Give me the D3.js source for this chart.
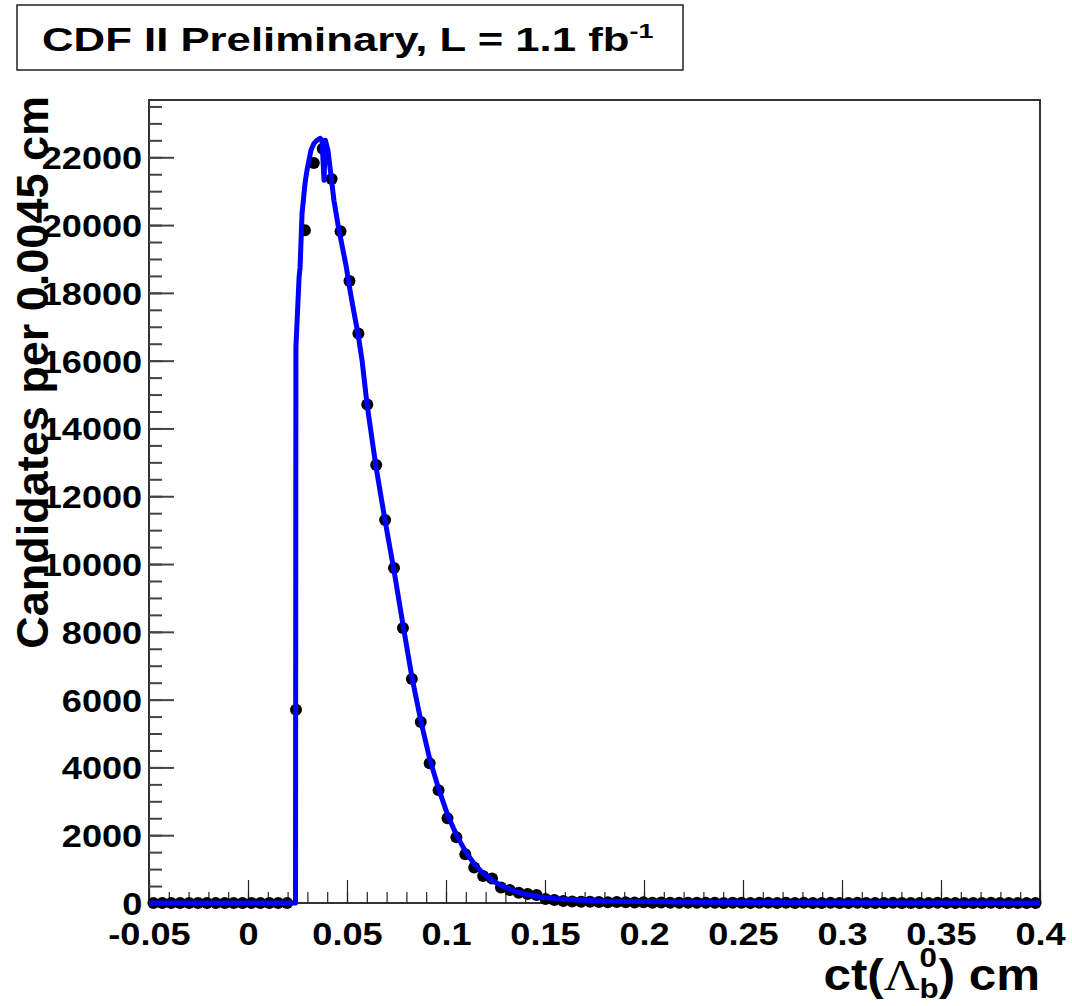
<!DOCTYPE html>
<html>
<head>
<meta charset="utf-8">
<script src="https://cdn.jsdelivr.net/npm/d3@7"></script>
<style>
    body { margin: 0; background: #fff; }
    text { font-family: "Liberation Sans", Arial, sans-serif; font-weight: bold; }
</style>
</head>
<body>
<div id="chart"></div>
<script>

// histogram: 100 bins of 0.0045 cm from -0.05 to 0.4 cm
const binLow = -0.05;
const binWidth = 0.0045;
const counts = [
    0, 0, 0, 0, 0, 0, 0, 0, 0, 0,
    0, 0, 0, 0, 0, 0, 5700, 19850, 21830, 22250,
    21360, 19820, 18350, 16800, 14710, 12920, 11300, 9880, 8110, 6610,
    5340, 4120, 3330, 2500, 1940, 1440, 1050, 800, 720, 460,
    380, 300, 265, 235, 120, 90, 60, 45, 40, 35,
    30, 25, 30, 20, 15, 20, 10, 15, 10, 10,
    5, 10, 5, 5, 0, 10, 5, 0, 5, 5,
    0, 5, 0, 5, 0, 0, 5, 0, 0, 5,
    0, 0, 0, 5, 0, 0, 0, 0, 5, 0,
    0, 0, 0, 0, 5, 0, 0, 0, 0, 0
];

// fit curve (blue)
const fitX = [-0.05, 0.0240, 0.0242, 0.0258, 0.0263, 0.0273, 0.0288, 0.0298, 0.0318, 0.0333,
    0.0348, 0.0364, 0.0374, 0.0384, 0.0391, 0.0404, 0.0419, 0.0434, 0.0455, 0.0475,
    0.0495, 0.0515, 0.0535, 0.0556, 0.0576, 0.0601, 0.0646, 0.0692, 0.0737, 0.0783,
    0.0828, 0.0874, 0.0919, 0.0965, 0.1010, 0.1055, 0.1101, 0.1146, 0.1192, 0.1237,
    0.1283, 0.1374, 0.1475, 0.1576, 0.1778, 0.2283, 0.30, 0.40];
const fitY = [0, 0, 16400, 18460, 18750, 20350, 21230, 21620, 22210, 22410,
    22500, 22560, 22500, 21320, 22500, 22200, 21470, 20730, 19990, 19400,
    18810, 18080, 17430, 16780, 16010, 14720, 12890, 11290, 9820, 8200,
    6660, 5340, 4220, 3330, 2570, 1980, 1500, 1120, 855, 650,
    500, 295, 177, 118, 60, 20, 5, 0];

const xMajor = [-0.05, 0, 0.05, 0.1, 0.15, 0.2, 0.25, 0.3, 0.35, 0.4];
const yMajor = [0, 2000, 4000, 6000, 8000, 10000, 12000, 14000, 16000, 18000, 20000, 22000];

const W = 1072, H = 1006;
const frame = {left: 149, right: 1040, top: 100, bottom: 903};
const stretch = 1.13; // the original text is drawn a bit wider than Arial

const svg = d3.select("#chart").append("svg")
    .attr("width", W)
    .attr("height", H);

svg.append("rect").attr("width", W).attr("height", H).attr("fill", "#fff");

const x = d3.scaleLinear().domain([-0.05, 0.4]).range([frame.left, frame.right]);
const y = d3.scaleLinear().domain([0, 23690]).range([frame.bottom, frame.top]);

// frame
svg.append("rect")
    .attr("x", frame.left).attr("y", frame.top)
    .attr("width", frame.right - frame.left)
    .attr("height", frame.bottom - frame.top)
    .attr("fill", "none")
    .attr("stroke", "#333")
    .attr("stroke-width", 2);

let fmt = d => String(+d.toFixed(2));

// x axis, ticks pointing up into the frame
let xMinor = d3.range(-0.05, 0.4001, 0.01);
let gxMinor = svg.append("g")
    .attr("transform", "translate(0," + frame.bottom + ")")
    .call(d3.axisBottom(x).tickValues(xMinor).tickSize(-11).tickFormat(""));
gxMinor.select(".domain").remove();

let gx = svg.append("g")
    .attr("transform", "translate(0," + frame.bottom + ")")
    .call(d3.axisBottom(x).tickValues(xMajor).tickSize(-23).tickPadding(0).tickFormat(fmt));
gx.select(".domain").remove();
svg.selectAll(".tick line").attr("stroke", "#222").attr("stroke-width", 1.2);
gx.selectAll(".tick text")
    .attr("y", 42).attr("dy", null)
    .attr("transform", "scale(" + stretch + ",1)")
    .attr("fill", "#000")
    .style("font-size", "32px")
    .style("font-family", "Liberation Sans")
    .style("font-weight", "bold");

// y axis, ticks pointing right
let yMinor = d3.range(0, 23600, 500);
let gyMinor = svg.append("g")
    .attr("transform", "translate(" + frame.left + ",0)")
    .call(d3.axisLeft(y).tickValues(yMinor).tickSize(-13).tickFormat(""));
gyMinor.select(".domain").remove();

let gy = svg.append("g")
    .attr("transform", "translate(" + frame.left + ",0)")
    .call(d3.axisLeft(y).tickValues(yMajor).tickSize(-25).tickPadding(6).tickFormat(d3.format("d")));
gy.select(".domain").remove();
gyMinor.selectAll(".tick line").attr("stroke", "#444").attr("stroke-width", 2);
gy.selectAll(".tick line").attr("stroke", "#444").attr("stroke-width", 2);
gy.selectAll(".tick text")
    .attr("transform", "scale(" + stretch + ",1)")
    .attr("dy", "0.36em")
    .attr("fill", "#000")
    .style("font-size", "32px")
    .style("font-family", "Liberation Sans")
    .style("font-weight", "bold");

// data points
svg.append("g")
    .selectAll("circle")
    .data(counts)
    .enter()
    .append("circle")
    .attr("cx", (d, i) => x(binLow + binWidth * (i + 0.5)))
    .attr("cy", d => y(d))
    .attr("r", 6)
    .attr("fill", "#000");

// fit curve
let fitPts = fitX.map((v, i) => [v, fitY[i]]);
svg.append("path")
    .datum(fitPts)
    .attr("d", d3.line().x(d => x(d[0])).y(d => y(d[1])))
    .attr("fill", "none")
    .attr("stroke", "#0000ff")
    .attr("stroke-width", 5)
    .attr("stroke-linejoin", "round");

// y axis title
svg.append("text")
    .attr("transform", "translate(48,96) rotate(-90)")
    .attr("text-anchor", "end")
    .style("font-size", "45px")
    .attr("fill", "#000")
    .text("Candidates per 0.0045 cm");

// x axis title: ct(Λb0) cm, built from pieces then right aligned
let xt = svg.append("g");
let base = 990;
let cx = 0;
let add = (txt, size, dy, family, weight) => {
    let t = xt.append("text")
        .attr("x", cx).attr("y", base + dy)
        .style("font-size", size + "px")
        .style("font-family", family || "Liberation Sans")
        .style("font-weight", weight || "bold")
        .attr("fill", "#000")
        .text(txt);
    return t.node().getComputedTextLength();
};
cx += add("ct(", 44, 0);
cx += add("\u039B", 44, 0, "Liberation Serif", "normal");
let wSub = add("b", 28, 8);
let wSup = add("0", 28, -23);
cx += Math.max(wSub, wSup);
cx += add(") cm", 44, 0);
xt.attr("transform", "translate(" + (frame.right - 1.12 * cx) + ",0) scale(1.12,1)");

// title box
svg.append("rect")
    .attr("x", 17).attr("y", 5)
    .attr("width", 666).attr("height", 65)
    .attr("fill", "#fff")
    .attr("stroke", "#222")
    .attr("stroke-width", 1.5);

let title = svg.append("text")
    .attr("x", 0).attr("y", 51)
    .style("font-size", "34px")
    .style("font-weight", "bold")
    .attr("fill", "#000");
title.append("tspan").text("CDF II Preliminary, L = 1.1 fb");
title.append("tspan").attr("dy", -13).style("font-size", "21px").text("-1");
let tw = title.node().getBBox().width;
title.attr("transform", "translate(42,0) scale(" + (612 / tw) + ",1)");

</script>
</body>
</html>
